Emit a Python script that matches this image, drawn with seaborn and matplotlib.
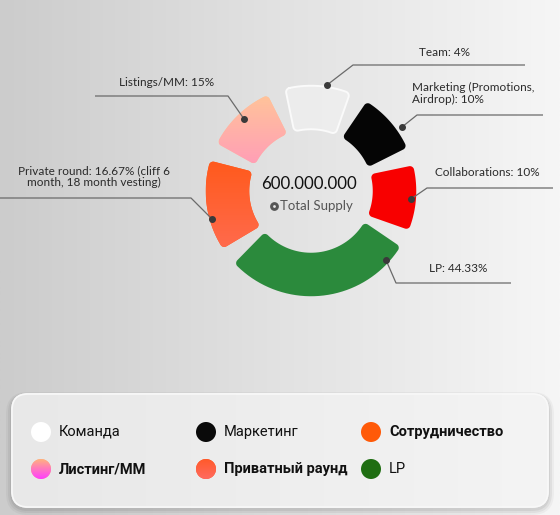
import numpy as np
import matplotlib
matplotlib.use("Agg")
import matplotlib.pyplot as plt
import seaborn as sns
from matplotlib.colors import LinearSegmentedColormap, to_rgba
from matplotlib.patches import FancyBboxPatch, Circle, PathPatch
from matplotlib.path import Path

# данные (токеномика)
segments = ["Team", "Marketing (Promotions,\nAirdrop)", "Collaborations", "LP", "Private round", "Listings/MM"]
shares = [4, 10, 10, 44.33, 16.67, 15]
label_notes = ["", "", "", "", " (cliff 6\nmonth, 18 month vesting)", ""]
# размер дуг так, как они нарисованы на макете (градусы)
arc_spans = [37, 35, 37, 106, 51, 40]
arc_gap = 9
seg_colors = ["#ececec", "#050505", "#f80000", "#2b8a3c", ("#ff5a1c", "#ff6a4c"), ("#ffc39a", "#ff9fb6")]

total_supply = "600.000.000"
supply_caption = "Total Supply"

legend_names = ["Команда", "Маркетинг", "Сотрудничество", "Листинг/MM", "Приватный раунд", "LP"]
legend_bold = [False, False, True, True, True, False]
legend_colors = ["#ffffff", "#0a0a0a", "#ff5a08", ("#ffb27e", "#ff3cff"), ("#ff5a2a", "#ff6a60"), "#1f6e12"]

sns.set_theme(style="white")
plt.rcParams['font.family'] = ['Lato', 'DejaVu Sans']

W, H = 560, 515
fig = plt.figure(figsize=(W / 100, H / 100), dpi=100)
ax = fig.add_axes([0, 0, 1, 1])


def py(y):
    # перевод из пиксельных координат (сверху вниз)
    return H - y


def gradient_fill(patch, c_top, c_bottom, extent, horizontal=False, z=2):
    cmap = LinearSegmentedColormap.from_list("g", [c_top, c_bottom])
    g = np.linspace(0, 1, 256)
    arr = g[np.newaxis, :] if horizontal else g[:, np.newaxis]
    im = ax.imshow(arr, cmap=cmap, extent=extent, origin="upper", aspect="auto", zorder=z)
    im.set_clip_path(patch)
    return im


def rounded_sector(wedge, e):
    # контур клина, расширенный на e со скруглёнными углами (как обводка с round join)
    (x0, y0), R = wedge.center, wedge.r
    r = R - wedge.width
    t1, t2 = np.radians(wedge.theta1), np.radians(wedge.theta2)

    def arc(cx, cy, rad, a, b, n=40):
        t = np.linspace(a, b, n)
        return np.column_stack([cx + rad * np.cos(t), cy + rad * np.sin(t)])

    B = (x0 + R * np.cos(t2), y0 + R * np.sin(t2))
    C = (x0 + r * np.cos(t2), y0 + r * np.sin(t2))
    D = (x0 + r * np.cos(t1), y0 + r * np.sin(t1))
    A = (x0 + R * np.cos(t1), y0 + R * np.sin(t1))
    pts = np.vstack([
        arc(x0, y0, R + e, t1, t2),
        arc(*B, e, t2, t2 + np.pi / 2, 10),
        arc(*C, e, t2 + np.pi / 2, t2 + np.pi, 10),
        arc(x0, y0, r - e, t2, t1),
        arc(*D, e, t1 + np.pi, t1 + 1.5 * np.pi, 10),
        arc(*A, e, t1 - np.pi / 2, t1, 10),
    ])
    return Path(np.vstack([pts, pts[:1]]), closed=True)


# фон
bg = LinearSegmentedColormap.from_list("bg", ["#cccccc", "#e2e2e2", "#f6f6f6"])
ax.imshow(np.linspace(0, 1, 256)[np.newaxis, :], cmap=bg, extent=(0, W, 0, H), aspect="auto", zorder=0)

# кольцо: скругление углов, поэтому дуги чуть укорачиваем
edge_px = 8.5
ring_r, ring_w = 101, 35
pad_deg = np.degrees(edge_px / (ring_r - ring_w / 2))

weights = []
colors = []
for span, c in zip(arc_spans, seg_colors):
    weights += [span - pad_deg, arc_gap + pad_deg]
    colors += [c if isinstance(c, str) else c[0], "none"]

cx, cy = 311, py(191)
wedges, _ = ax.pie(weights, colors=colors, center=(cx, cy), radius=ring_r,
                   startangle=104.7 - pad_deg / 2, counterclock=False,
                   wedgeprops=dict(width=ring_w, linewidth=0))

for i, c in enumerate(seg_colors):
    w = wedges[2 * i]
    w.set_visible(False)
    shape = rounded_sector(w, edge_px / 2)
    if i == 0:
        # полупрозрачный сегмент с белой каймой
        ax.add_patch(PathPatch(shape, facecolor=to_rgba("#eeeeee", 0.9), edgecolor="#fafafa",
                               lw=1.4, zorder=3))
        continue
    base = c if isinstance(c, str) else c[0]
    patch = PathPatch(shape, facecolor=base, edgecolor="none", zorder=3)
    ax.add_patch(patch)
    if not isinstance(c, str):
        bb = shape.get_extents()
        gradient_fill(patch, c[0], c[1], (bb.x0, bb.x1, bb.y0, bb.y1), z=3.5)

ax.set_xlim(0, W)
ax.set_ylim(0, H)
ax.set_aspect("auto")
ax.axis("off")

# центр
ax.text(309, py(184), total_supply, ha="center", va="center", fontsize=12.2, color="#111111", zorder=5)
ax.text(280, py(206), supply_caption, ha="left", va="center", fontsize=9.5, color="#555555", zorder=5)
ax.scatter([273.5], [py(206)], s=40, color="#555555", zorder=5, linewidths=0)
ax.scatter([273.5], [py(206)], s=4, color="#e6e6e6", zorder=6, linewidths=0)

# подписи с выносками
leaders = [
    [(327, 85), (353, 65), (525, 65)],
    [(402, 127), (417, 115), (543, 115)],
    [(411, 199), (427, 188), (553, 188)],
    [(386, 260), (396, 283), (511, 283)],
    [(212, 219), (191, 198), (0, 198)],
    [(244, 119), (228, 96), (95, 96)],
]
text_pos = [(419, 52, "left"), (412, 93.5, "left"), (435, 173, "left"),
            (429, 269, "left"), (93.5, 176.5, "center"), (119, 83, "left")]
for name, v, note, pts, (tx, ty, ha) in zip(segments, shares, label_notes, leaders, text_pos):
    xs = [p[0] for p in pts]
    ys = [py(p[1]) for p in pts]
    ax.plot(xs, ys, color="#6a6a6a", lw=0.9, zorder=6, solid_capstyle="butt")
    ax.plot(xs[0], ys[0], "o", ms=4, color="#3a3a3a", zorder=7)
    ax.text(tx, py(ty), f"{name}: {v:g}%{note}", ha=ha, va="center", multialignment=ha,
            fontsize=8.5, color="#2a2a2a", linespacing=1.05, zorder=7)

# легенда
for dx, dy, a in [(6, 8, 0.035), (4, 6, 0.05), (2, 4, 0.06)]:
    sh = FancyBboxPatch((12 - dx, py(507) - dy), 536 + 2 * dx, 113 + dx + dy / 2,
                        boxstyle=f"round,pad=0,rounding_size={16 + dx}", facecolor="#000000",
                        edgecolor="none", alpha=a, zorder=7)
    ax.add_patch(sh)
box = FancyBboxPatch((12, py(507)), 536, 113, boxstyle="round,pad=0,rounding_size=16",
                     facecolor="#ececec", edgecolor="#f7f7f7", lw=1.2, zorder=8)
ax.add_patch(box)
gradient_fill(box, "#e8e8e8", "#f4f4f4", (12, 548, py(507), py(394)), horizontal=True, z=8.5)
ax.add_patch(FancyBboxPatch((12, py(507)), 536, 113, boxstyle="round,pad=0,rounding_size=16",
                            facecolor="none", edgecolor="#f8f8f8", lw=1.2, zorder=9))

col_x = [41, 206, 371]
row_y = [432, 469]
for i, (name, bold, c) in enumerate(zip(legend_names, legend_bold, legend_colors)):
    x = col_x[i % 3]
    y = py(row_y[i // 3])
    if isinstance(c, str):
        ax.add_patch(Circle((x, y), 10, facecolor=c, edgecolor="none", zorder=10))
    else:
        circ = Circle((x, y), 10, facecolor=c[0], edgecolor="none", zorder=10)
        ax.add_patch(circ)
        gradient_fill(circ, c[0], c[1], (x - 10, x + 10, y - 10, y + 10), z=10.5)
    ax.text(x + 18, y, name, ha="left", va="center", fontsize=10.5, family=["Roboto", "DejaVu Sans"],
            fontweight="bold" if bold else "normal", color="#111111", zorder=11)

fig.savefig("out.png", dpi=100)
